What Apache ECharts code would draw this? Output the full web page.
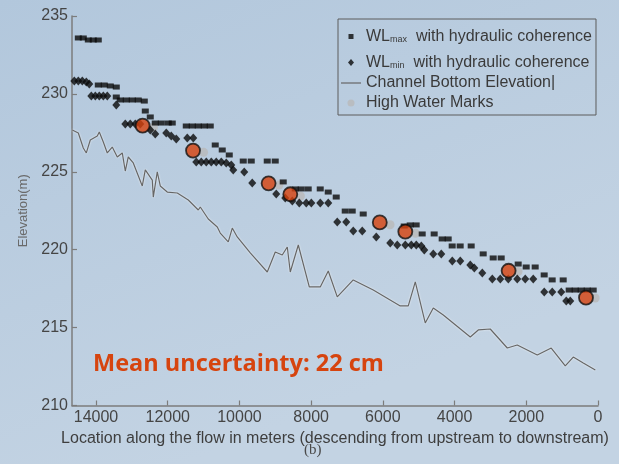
<!DOCTYPE html>
<html><head><meta charset="utf-8">
<script src="https://cdn.jsdelivr.net/npm/echarts@6/dist/echarts.min.js"></script>
<style>html,body{margin:0;padding:0;background:#bccfe2}#c{width:619px;height:464px}</style>
</head><body><div id="c"></div>
<script>
// ---- data (distance in m, elevation in m) ----
const wlMaxDist = [14494,14355,14215,14076,13937,13937,13770,13602,13435,13435,13324,13156,12989,12822,12654,12626,12487,12348,12180,11985,11874,11483,11316,11149,10981,10814,10675,10480,10284,9894,9671,9225,9002,8779,8444,8277,8082,7747,7524,7301,7050,6855,6548,5405,5238,5071,4903,4569,4346,4178,4067,3844,3537,3202,2923,2700,2226,2003,1752,1501,1278,971,804,636,469,301,134];
const wlMaxElev = [233.59,233.59,233.46,233.46,233.46,230.57,230.57,230.51,230.44,229.80,229.61,229.61,229.61,229.61,229.54,228.90,228.52,228.13,228.13,228.13,228.13,227.94,227.94,227.94,227.94,227.94,226.72,226.40,226.08,225.69,225.69,225.69,225.69,224.35,223.90,223.90,223.90,223.90,223.70,223.38,222.48,222.48,222.29,221.52,221.59,221.59,221.01,221.01,220.69,220.69,220.24,220.24,220.24,219.73,219.47,219.47,219.08,218.89,218.89,218.38,218.06,218.06,217.41,217.41,217.41,217.41,217.41];

const wlMinDist = [14606,14494,14383,14271,14188,14132,14020,13909,13797,13686,13435,13184,13045,12905,12766,12487,12348,12041,11902,11762,11455,11288,11204,11065,10925,10786,10647,10507,10368,10228,10173,9866,9643,8974,8723,8526,8331,8136,7996,7746,7523,7272,7021,6826,6575,6184,5794,5599,5374,5207,5068,4928,4845,4594,4371,4064,3841,3562,3450,3227,2948,2725,2502,2252,2029,1806,1499,1276,1025,885,774];
const wlMinElev = [230.83,230.83,230.83,230.76,230.64,229.87,229.87,229.87,229.87,229.87,229.29,228.07,228.07,228.07,228.07,227.68,227.43,227.49,227.30,227.11,227.17,227.17,225.63,225.63,225.63,225.63,225.63,225.63,225.57,225.44,225.12,224.99,224.28,223.58,223.32,223.13,223.00,223.00,223.00,223.00,223.00,221.78,221.78,221.20,221.20,220.82,220.43,220.30,220.30,220.30,220.30,220.24,219.98,219.73,219.73,219.28,219.28,219.02,218.83,218.51,218.12,218.12,218.12,218.12,218.12,218.12,217.29,217.29,217.29,216.71,216.71];

const bedDist = [14662,14494,14355,14271,14160,13965,13909,13797,13686,13547,13407,13268,13184,13101,12961,12710,12626,12431,12403,12292,12208,12013,11734,11427,11148,11092,10869,10618,10535,10312,10200,10061,9698,9224,9001,8806,8666,8582,8359,8052,7746,7523,7272,6826,6268,5515,5292,5096,4818,4594,4315,3562,3339,3005,2530,2252,1694,1304,913,690,411,75];
const bedElev = [227.68,227.49,226.53,226.21,227.04,227.30,227.56,226.91,226.21,226.59,225.95,226.21,225.05,225.95,225.57,224.09,225.12,224.47,223.38,224.99,224.09,223.70,223.64,223.19,222.55,222.74,221.97,221.46,221.07,220.50,221.39,220.82,219.79,218.57,219.85,219.66,220.17,218.57,220.30,217.61,217.61,218.63,216.97,218.06,217.41,216.39,216.39,217.93,215.30,216.26,215.81,214.40,214.85,214.91,213.69,213.88,213.24,213.69,212.54,213.11,212.73,212.28];

const hwmDist = [12400,11000,8900,8300,5800,5090,2230,80];
const hwmElev = [227.85,226.25,224.15,223.45,221.6,221.05,218.6,216.9];

const hwmHiDist = [12701,11295,9187,8582,6086,5374,2493,335];
const hwmHiElev = [227.96,226.36,224.26,223.56,221.75,221.16,218.65,216.92];

const xTickInterval = 2000;
const yTicks = [210,215,220,225,230,235];

const zip = (a,b) => a.map((v,i)=>[v,b[i]]);
const FONT = 'Arial, "Liberation Sans", sans-serif';

const chart = echarts.init(document.getElementById('c'), null, {renderer:'canvas'});
chart.setOption({
  animation: false,
  backgroundColor: {type:'linear', x:0, y:0, x2:0.3, y2:1, colorStops:[{offset:0,color:'#b2c7dc'},{offset:1,color:'#c3d3e3'}]},
  grid: {left:72, right:21, top:16, bottom:58.5, containLabel:false},
  xAxis: {
    type:'value', inverse:true, min:0, max:14670, interval:xTickInterval,
    name:'Location along the flow in meters (descending from upstream to downstream)',
    nameLocation:'middle', nameGap:23,
    nameTextStyle:{fontFamily:FONT, fontSize:16, color:'#3e3e3e'},
    axisLine:{onZero:false, lineStyle:{color:'#7c7c7c', width:1.5}},
    axisTick:{inside:true, length:5, lineStyle:{color:'#7c7c7c', width:1.2}},
    axisLabel:{showMaxLabel:false, margin:4, fontFamily:FONT, fontSize:16, color:'#454545', formatter:v=>String(v)},
    splitLine:{show:false}
  },
  yAxis: {
    type:'value', position:'left', min:yTicks[0], max:yTicks[yTicks.length-1], interval:5,
    name:'Elevation(m)', nameLocation:'middle', nameGap:42, nameRotate:90,
    nameTextStyle:{fontFamily:FONT, fontSize:13, color:'#6a6a6a'},
    axisLine:{onZero:false, lineStyle:{color:'#7c7c7c', width:1.5}},
    axisTick:{inside:true, length:5, lineStyle:{color:'#7c7c7c', width:1.2}},
    axisLabel:{margin:4, fontFamily:FONT, fontSize:16, color:'#454545'},
    splitLine:{show:false}
  },
  legend: {
    orient:'vertical', left:338, top:19, padding:[4,4,4,3], itemGap:4,
    itemWidth:20, itemHeight:8,
    borderColor:'#5c5c5c', borderWidth:1, backgroundColor:'transparent',
    selectedMode:false,
    textStyle:{fontFamily:FONT, fontSize:16, color:'#3a3a3a',
      rich:{
        a:{fontFamily:FONT, fontSize:16, color:'#3a3a3a', lineHeight:15, verticalAlign:'top'},
        s:{fontFamily:FONT, fontSize:9, color:'#3a3a3a', lineHeight:10, verticalAlign:'bottom', padding:[12,0,0,0]}
      }},
    formatter: function(name){
      if (name==='WLmax') return '{a|WL}{s|max}{a|  with hydraulic coherence}';
      if (name==='WLmin') return '{a|WL}{s|min}{a|  with hydraulic coherence}';
      if (name==='Channel Bottom Elevation') return 'Channel Bottom Elevation|';
      return name;
    },
    data:[
      {name:'WLmax', icon:'path://M0,0M20,8M7.5,1.5h5v5h-5z'},
      {name:'WLmin', icon:'path://M0,0M20,8M10,0.5L13,4L10,7.5L7,4z'},
      {name:'Channel Bottom Elevation', icon:'path://M0,0M20,8M0,3.4h20v1.2h-20z'},
      {name:'High Water Marks', icon:'path://M0,0M20,8M13.5,4A3.5,3.5,0,1,1,6.5,4A3.5,3.5,0,1,1,13.5,4z'}
    ]
  },
  graphic: [
    {type:'text', left:93, top:352, z:100, style:{text:'Mean uncertainty: 22 cm', font:'bold 23.5px "Open Sans"', fill:'#d6440f'}},
    {type:'text', left:304, top:443, style:{text:'(b)', font:'15px "Liberation Serif"', fill:'#4a4a4a'}}
  ],
  series: [
    {name:'Channel Bottom Elevation', type:'line', data:zip(bedDist,bedElev), symbol:'none', z:2,
      lineStyle:{color:'#666', width:1.2, shadowColor:'rgba(255,255,255,0.9)', shadowBlur:2},
      itemStyle:{color:'#666'}},
    {name:'High Water Marks', type:'scatter', data:zip(hwmDist,hwmElev), symbol:'circle', symbolSize:9, z:3,
      itemStyle:{color:'#b9b9b9'}},
    {name:'WLmax', type:'scatter', data:zip(wlMaxDist,wlMaxElev), symbol:'rect', symbolSize:[7,5], z:4,
      itemStyle:{color:'#0a0a0a'}},
    {name:'WLmin', type:'scatter', data:zip(wlMinDist,wlMinElev), symbol:'diamond', symbolSize:[8,9], z:4,
      itemStyle:{color:'#0a0a0a'}},
    {name:'HWM overlay', type:'scatter', data:zip(hwmHiDist,hwmHiElev), symbol:'circle', symbolSize:14, z:6,
      itemStyle:{color:'#d6410c', borderColor:'#111', borderWidth:1.8}}
  ]
});
</script></body></html>
